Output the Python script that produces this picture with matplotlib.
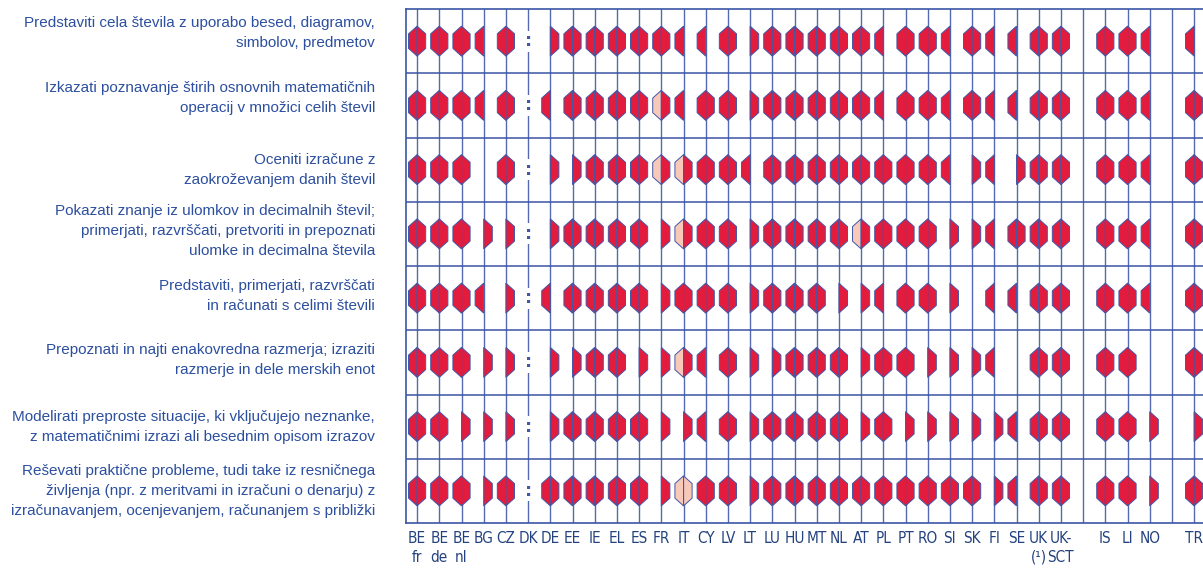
import matplotlib
matplotlib.use('Agg')
import matplotlib.pyplot as plt
from matplotlib.patches import Polygon

# column labels (blank = spacer column)
countries = ['BE\nfr', 'BE\nde', 'BE\nnl', 'BG', 'CZ', 'DK', 'DE', 'EE', 'IE', 'EL',
             'ES', 'FR', 'IT', 'CY', 'LV', 'LT', 'LU', 'HU', 'MT', 'NL', 'AT', 'PL',
             'PT', 'RO', 'SI', 'SK', 'FI', 'SE', 'UK\n(¹)', 'UK-\nSCT', '', 'IS',
             'LI', 'NO', '', 'TR']

topics = [
    'Predstaviti cela števila z uporabo besed, diagramov,\nsimbolov, predmetov',
    'Izkazati poznavanje štirih osnovnih matematičnih\noperacij v množici celih števil',
    'Oceniti izračune z\nzaokroževanjem danih števil',
    'Pokazati znanje iz ulomkov in decimalnih števil;\nprimerjati, razvrščati, pretvoriti in prepoznati\nulomke in decimalna števila',
    'Predstaviti, primerjati, razvrščati\nin računati s celimi števili',
    'Prepoznati in najti enakovredna razmerja; izraziti\nrazmerje in dele merskih enot',
    'Modelirati preproste situacije, ki vključujejo neznanke,\nz matematičnimi izrazi ali besednim opisom izrazov',
    'Reševati praktične probleme, tudi take iz resničnega\nživljenja (npr. z meritvami in izračuni o denarju) z\nizračunavanjem, ocenjevanjem, računanjem s približki',
]

# each cell: left half + right half, 0 = none, 1 = red, 2 = pale, '::' = not available
row_1 = '11 11 11 10 11 :: 01 11 11 11 11 11 10 10 11 01 11 11 11 11 11 10 11 11 10 11 10 10 11 11 00 11 11 10 00 10'
row_2 = '11 11 11 10 11 :: 10 11 11 11 11 21 10 11 11 01 11 11 11 11 11 10 11 11 10 11 10 10 11 11 00 11 11 10 00 11'
row_3 = '11 11 11 00 11 :: 01 01 11 11 11 21 21 11 11 10 11 11 11 11 11 11 11 11 10 01 10 01 11 11 00 11 11 10 00 11'
row_4 = '11 11 11 01 01 :: 01 11 11 11 11 01 21 11 11 01 11 11 11 11 21 11 11 11 01 01 10 11 11 11 00 11 11 10 00 11'
row_5 = '11 11 11 10 01 :: 10 11 11 11 11 01 11 11 11 01 11 11 11 01 01 10 11 11 01 00 10 10 11 11 00 11 11 10 00 11'
row_6 = '11 11 11 01 01 :: 01 01 11 11 01 01 21 10 11 01 01 11 11 11 01 11 11 01 01 01 10 00 11 11 00 11 11 00 00 11'
row_7 = '11 11 01 01 01 :: 01 11 11 11 11 01 01 10 11 01 11 11 11 11 01 11 01 01 01 01 01 10 11 11 00 11 11 01 00 01'
row_8 = '11 11 11 01 11 :: 11 11 11 11 11 01 22 11 11 01 11 11 11 11 11 11 11 11 11 11 01 10 11 11 00 11 11 01 00 11'
rows = [row_1, row_2, row_3, row_4, row_5, row_6, row_7, row_8]

# small upward nudges (pixels) of the left-hand texts, as in the original layout
text_nudge = [8, 7, 0, 3, 2, 2, 0, 0]

RED = '#e31b3c'
PALE = '#f8c8b9'
EDGE = '#4257a8'
LINE = '#3a55a5'
TEXT = '#2c4f9f'
LABEL = '#23427f'

fig = plt.figure(figsize=(12.03, 5.71), dpi=100)
ax = fig.add_axes([406 / 1203, 1 - 523 / 571, (1203 - 406) / 1203, 514 / 571])
ax.set_xlim(-0.5, 35.4)
ax.set_ylim(len(rows), 0)

# hexagon size in data units (approx 17 x 30 px)
hw = 8.6 / 22.23
hh = 15 / 64.25
sh = 7.3 / 64.25

for r, row in enumerate(rows):
    yc = r + 0.5
    for c, code in enumerate(row.split()):
        if code == '::':
            ax.text(c, yc, ':', ha='center', va='center', fontsize=13, fontweight='bold',
                    color=EDGE, zorder=5,
                    bbox=dict(facecolor='white', edgecolor='none', pad=1.0))
            continue
        for side, state in zip((-1, 1), code):
            if state == '0':
                continue
            pts = [(c, yc - hh), (c + side * hw, yc - sh), (c + side * hw, yc + sh), (c, yc + hh)]
            ax.add_patch(Polygon(pts, closed=True, facecolor=RED if state == '1' else PALE,
                                 edgecolor=EDGE, linewidth=0.7, zorder=2))

# grid: solid lines under the marks, a faint trace over them
for c in range(len(countries)):
    ax.axvline(c, color=LINE, linewidth=1.0, alpha=0.85, zorder=1)
    ax.axvline(c, color=LINE, linewidth=0.6, alpha=0.15, zorder=3)
for r in range(1, len(rows)):
    ax.axhline(r, color=LINE, linewidth=1.1, zorder=3)

for side in ['left', 'top', 'bottom']:
    ax.spines[side].set_color(LINE)
    ax.spines[side].set_linewidth(1.2)
ax.spines['right'].set_visible(False)

ax.set_xticks(range(len(countries)))
ax.set_xticklabels(countries, fontsize=11, color=LABEL, fontstretch='condensed',
                   family=['Liberation Sans Narrow', 'DejaVu Sans Condensed', 'DejaVu Sans'])
ax.tick_params(axis='x', length=0, pad=6)
for lab in ax.get_xticklabels():
    lab.set_linespacing(1.3)

ax.set_yticks([])
for r, topic in enumerate(topics):
    ax.annotate(topic, xy=(0, r + 0.5), xycoords=('axes fraction', 'data'),
                xytext=(-31, text_nudge[r]), textcoords='offset pixels',
                ha='right', va='center', fontsize=11, color=TEXT,
                family='Liberation Sans', linespacing=1.55)

plt.savefig('out.png', dpi=100)
